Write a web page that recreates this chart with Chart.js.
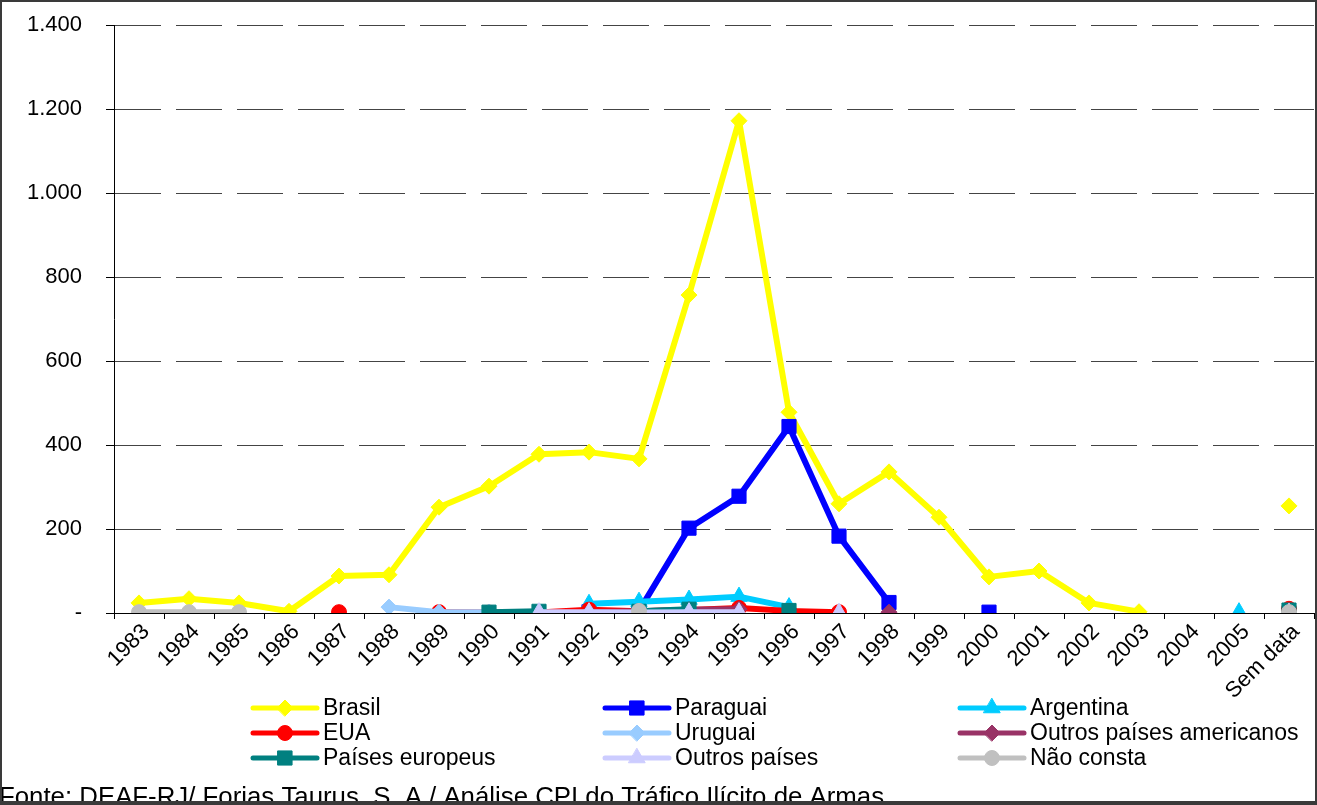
<!DOCTYPE html>
<html>
<head>
<meta charset="utf-8">
<script src="https://cdn.jsdelivr.net/npm/chart.js@4/dist/chart.umd.min.js"></script>
<style>
  html, body { margin: 0; padding: 0; background: #fff; }
  #wrap { position: relative; width: 1317px; height: 805px; overflow: hidden; }
  canvas { display: block; }
</style>
</head>
<body>
<div id="wrap"><canvas id="chart" width="1317" height="805"></canvas></div>
<script>
// Apreensões de armas por país de fabricação e ano
const categories = ['1983','1984','1985','1986','1987','1988','1989','1990','1991','1992','1993','1994',
                    '1995','1996','1997','1998','1999','2000','2001','2002','2003','2004','2005','Sem data'];

const brasil          = [24, 34, 24, 4, 88, 91, 252, 302, 378, 383, 367, 757, 1172, 478, 260, 336, 228, 86, 100, 24, 3, null, null, 255];
const paraguai        = [null, null, null, null, null, null, null, null, null, 3, 5, 202, 278, 444, 183, 25, null, 2, null, null, null, null, null, null];
const argentina       = [null, null, null, null, null, null, null, null, null, 22, 27, 32, 39, 14, null, null, null, null, null, null, null, null, 2, null];
const eua             = [null, null, null, null, 2, null, 2, 1, 1, 8, 4, 7, 12, 5, 2, null, null, null, null, null, null, null, null, 10];
const uruguai         = [null, null, null, null, null, 14, 2, 2, null, null, null, null, null, null, null, null, null, null, null, null, null, null, null, null];
const outrosAmericanos= [null, null, null, null, null, null, null, null, null, 2, 4, 8, 9, null, null, 2, null, null, null, null, null, null, null, null];
const europeus        = [null, null, null, null, null, null, null, 2, 4, null, 4, 9, null, 6, null, null, null, null, null, null, null, null, null, 7];
const outrosPaises    = [null, null, null, null, null, null, null, null, 2, 2, 1, 2, 2, null, 1, null, null, null, null, null, null, null, null, 1];
const naoConsta       = [2, 2, 2, null, null, null, null, null, null, null, 5, null, null, null, null, null, null, null, null, null, null, null, null, 2];

const yTickLabels = ['-', '200', '400', '600', '800', '1.000', '1.200', '1.400'];
const sourceNote = 'Fonte: DEAF-RJ/ Forjas Taurus, S. A / Análise CPI do Tráfico Ilícito de Armas';

const FONT = 'Liberation Sans, Arial, sans-serif';

function series(label, data, color, pointStyle, radius) {
  return {
    label, data,
    borderColor: color, backgroundColor: color,
    pointBackgroundColor: color, pointBorderColor: color,
    pointStyle, pointRadius: radius, pointBorderWidth: 1,
    borderWidth: 6, borderCapStyle: 'round', borderJoinStyle: 'round',
    tension: 0, spanGaps: false, fill: false
  };
}

const datasets = [
  series('Brasil', brasil, '#FFFF00', 'rectRot', 8),
  series('Paraguai', paraguai, '#0000FF', 'rect', 10),
  series('Argentina', argentina, '#00CCFF', 'triangle', 9.5),
  series('EUA', eua, '#FF0000', 'circle', 7.5),
  series('Uruguai', uruguai, '#99CCFF', 'rectRot', 8),
  series('Outros países americanos', outrosAmericanos, '#993366', 'rectRot', 8),
  series('Países europeus', europeus, '#008080', 'rect', 10),
  series('Outros países', outrosPaises, '#CCCCFF', 'triangle', 9.5),
  series('Não consta', naoConsta, '#C0C0C0', 'circle', 7.5)
];
// later series are painted over earlier ones
datasets.forEach((d, i) => { d.order = datasets.length - i; });

// legend in three columns, plus the source note and the outer frame
const legendColumns = [253, 605, 960];
const legendRows = [708, 733, 758];

const extrasPlugin = {
  id: 'extras',
  afterDraw(chart) {
    const ctx = chart.ctx;
    ctx.save();
    chart.data.datasets.forEach((ds, i) => {
      const col = i % 3, row = Math.floor(i / 3);
      const x0 = legendColumns[col], y = legendRows[row];
      ctx.strokeStyle = ds.borderColor;
      ctx.lineWidth = 5;
      ctx.lineCap = 'round';
      ctx.beginPath();
      ctx.moveTo(x0, y);
      ctx.lineTo(x0 + 64, y);
      ctx.stroke();
      ctx.fillStyle = ds.pointBackgroundColor;
      ctx.strokeStyle = ds.pointBorderColor;
      ctx.lineWidth = 1;
      Chart.helpers.drawPoint(ctx, {pointStyle: ds.pointStyle, radius: ds.pointRadius, rotation: 0, borderWidth: 1}, x0 + 32, y);
      ctx.fillStyle = '#000';
      ctx.font = '23px ' + FONT;
      ctx.textAlign = 'left';
      ctx.textBaseline = 'middle';
      ctx.fillText(ds.label, x0 + 70, y + 1);
    });

    ctx.fillStyle = '#000';
    ctx.font = '25.8px ' + FONT;
    ctx.textAlign = 'left';
    ctx.textBaseline = 'alphabetic';
    ctx.fillText(sourceNote, -1, 805);

    ctx.fillStyle = '#3a3a3a';
    ctx.fillRect(0, 0, 2, 805);
    ctx.fillRect(0, 0, 1317, 2);
    ctx.fillRect(1315, 0, 2, 805);
    ctx.fillRect(0, 801, 1317, 4);
    ctx.restore();
  }
};

new Chart(document.getElementById('chart'), {
  type: 'line',
  data: { labels: categories, datasets },
  plugins: [extrasPlugin],
  options: {
    responsive: false,
    animation: false,
    events: [],
    layout: { autoPadding: false, padding: { top: 25, right: 3, left: 0, bottom: 0 } },
    plugins: { legend: { display: false }, tooltip: { enabled: false } },
    scales: {
      x: {
        type: 'category',
        offset: true,
        grid: { drawOnChartArea: false, drawTicks: true, offset: true, tickLength: 6, tickColor: '#000', tickWidth: 1 },
        border: { color: '#000', width: 1 },
        ticks: { color: '#000', font: { family: FONT, size: 22 }, minRotation: 45, maxRotation: 45, autoSkip: false, padding: 0, labelOffset: 7 },
        afterFit(scale) { scale.height = 192; scale.paddingLeft = 0; scale.paddingRight = 0; }
      },
      y: {
        min: 0, max: 1400,
        grid: {
          color: ctx => (ctx.tick && ctx.tick.value === 0) ? 'rgba(0,0,0,0)' : '#444',
          lineWidth: 1, tickLength: 8, tickColor: '#000', tickWidth: 1
        },
        border: { color: '#000', width: 1, dash: [46, 15] },
        ticks: {
          stepSize: 200, padding: 24, color: '#000', font: { family: FONT, size: 22 },
          callback: (v) => yTickLabels[Math.round(v / 200)]
        },
        afterFit(scale) { scale.width = 114; scale.paddingTop = 0; scale.paddingBottom = 0; }
      }
    }
  }
});
</script>
</body>
</html>
